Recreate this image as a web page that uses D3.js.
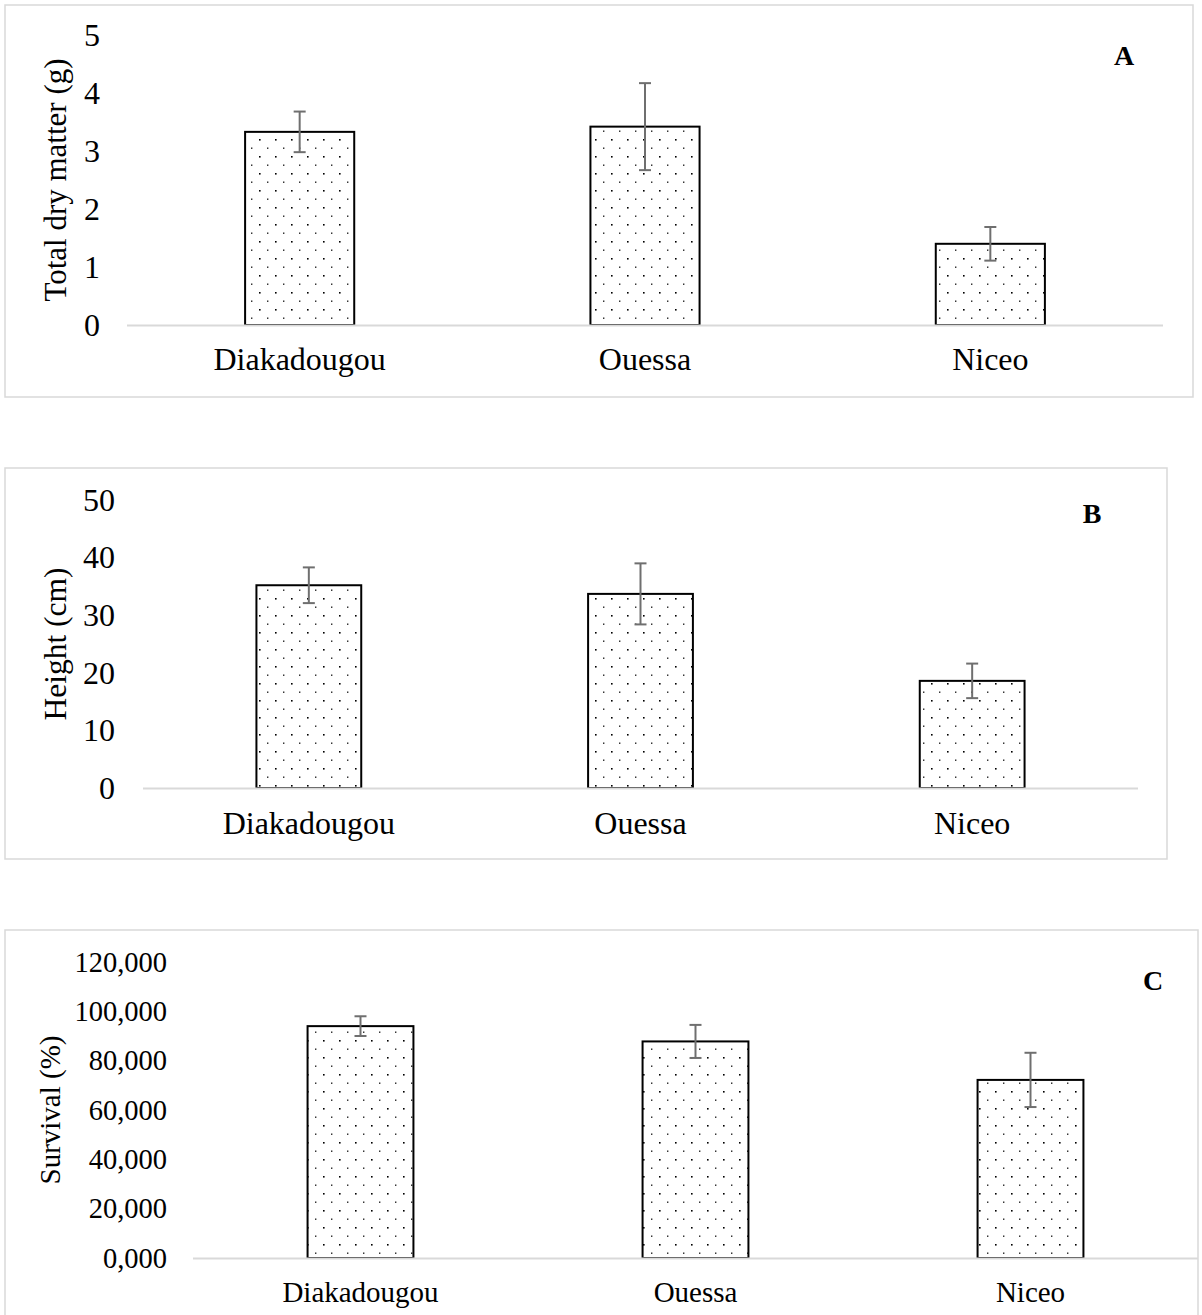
<!DOCTYPE html>
<html>
<head>
<meta charset="utf-8">
<script src="https://cdn.jsdelivr.net/npm/d3@7"></script>
<style>
  html, body { margin: 0; padding: 0; background: #fff; }
  svg { display: block; font-family: "Liberation Serif", "Times New Roman", serif; }
</style>
</head>
<body>
<div id="chart"></div>
<script>
// data
const sites = ["Diakadougou", "Ouessa", "Niceo"];

const dryMatter = [3.33, 3.42, 1.40];
const dryMatterErr = [0.35, 0.75, 0.29];
const dryMatterTicks = [0, 1, 2, 3, 4, 5];

const heightCm = [35.2, 33.7, 18.6];
const heightErr = [3.1, 5.3, 3.0];
const heightTicks = [0, 10, 20, 30, 40, 50];

const survival = [94.0, 87.8, 72.2];
const survivalErr = [4.0, 6.7, 11.0];
const survivalTicks = [0, 20, 40, 60, 80, 100, 120];

(function() {
  const W = 1202, H = 1315;
  const svg = d3.select("#chart").append("svg")
    .attr("width", W)
    .attr("height", H);

  const defs = svg.append("defs");
  const pat = defs.append("pattern")
    .attr("id", "dots")
    .attr("patternUnits", "userSpaceOnUse")
    .attr("width", 16)
    .attr("height", 17);
  pat.append("rect").attr("width", 16).attr("height", 17).attr("fill", "#fff");
  pat.append("rect").attr("x", 3).attr("y", 3).attr("width", 1.6).attr("height", 1.6).attr("fill", "#000");
  pat.append("rect").attr("x", 11).attr("y", 11.5).attr("width", 1.4).attr("height", 1.4).attr("fill", "#222");

  const commaFmt = d3.formatLocale({ decimal: ",", thousands: ".", grouping: [3], currency: ["", ""] }).format(".3f");

  const panels = [
    {
      values: dryMatter, errors: dryMatterErr, ticks: dryMatterTicks, fmt: d3.format("d"),
      title: "Total dry matter (g)", letter: "A",
      box: [5, 5, 1193, 397], x0: 127, x1: 1163, yBase: 325, yTop: 35,
      tickFont: 32, catFont: 32, titleFont: 31, tickGap: 27, titleX: 66, catDy: 45,
      letterX: 1124, letterY: 65
    },
    {
      values: heightCm, errors: heightErr, ticks: heightTicks, fmt: d3.format("d"),
      title: "Height (cm)", letter: "B",
      box: [5, 468, 1167, 859], x0: 143, x1: 1138, yBase: 788, yTop: 500,
      tickFont: 32, catFont: 32, titleFont: 31.5, tickGap: 28, titleX: 66, catDy: 46,
      letterX: 1092, letterY: 523
    },
    {
      values: survival, errors: survivalErr, ticks: survivalTicks, fmt: commaFmt,
      title: "Survival (%)", letter: "C",
      box: [5, 930, 1198, 1330], x0: 193, x1: 1198, yBase: 1258, yTop: 962,
      tickFont: 28.5, catFont: 29, titleFont: 29, tickGap: 26, titleX: 60, catDy: 44,
      letterX: 1153, letterY: 990
    }
  ];

  panels.forEach(p => {
    const g = svg.append("g");

    g.append("rect")
      .attr("x", p.box[0])
      .attr("y", p.box[1])
      .attr("width", p.box[2] - p.box[0])
      .attr("height", p.box[3] - p.box[1])
      .attr("fill", "none")
      .attr("stroke", "#d9d9d9")
      .attr("stroke-width", 1.5);

    const x = d3.scaleBand()
      .domain(sites)
      .range([p.x0, p.x1])
      .paddingInner(0.684)
      .paddingOuter(0.342);

    const y = d3.scaleLinear()
      .domain([0, d3.max(p.ticks)])
      .range([p.yBase, p.yTop]);

    const rows = sites.map((s, i) => ({ site: s, v: p.values[i], e: p.errors[i] }));

    // y axis labels only
    g.append("g")
      .attr("transform", `translate(${p.x0 - p.tickGap}, 0)`)
      .call(d3.axisLeft(y).tickValues(p.ticks).tickFormat(p.fmt).tickSize(0).tickPadding(0))
      .call(a => a.select(".domain").remove())
      .selectAll("text")
      .attr("fill", "#000")
      .style("font-family", "Liberation Serif, serif")
      .style("font-size", p.tickFont + "px");

    // bars
    g.selectAll(".bar")
      .data(rows)
      .enter()
      .append("rect")
      .attr("class", "bar")
      .attr("x", d => x(d.site))
      .attr("y", d => y(d.v))
      .attr("width", x.bandwidth())
      .attr("height", d => y(0) - y(d.v))
      .attr("fill", "url(#dots)")
      .attr("stroke", "#000")
      .attr("stroke-width", 2);

    // baseline
    g.append("line")
      .attr("x1", p.x0)
      .attr("x2", p.x1)
      .attr("y1", y(0) + 0.5)
      .attr("y2", y(0) + 0.5)
      .attr("stroke", "#d9d9d9")
      .attr("stroke-width", 2);

    // error bars
    const eb = g.selectAll(".err")
      .data(rows)
      .enter()
      .append("g")
      .attr("class", "err")
      .attr("stroke", "#6f6f6f")
      .attr("stroke-width", 2);

    const cx = d => x(d.site) + x.bandwidth() / 2;
    eb.append("line")
      .attr("x1", cx).attr("x2", cx)
      .attr("y1", d => y(d.v + d.e))
      .attr("y2", d => y(d.v - d.e));
    eb.append("line")
      .attr("x1", d => cx(d) - 6).attr("x2", d => cx(d) + 6)
      .attr("y1", d => y(d.v + d.e)).attr("y2", d => y(d.v + d.e));
    eb.append("line")
      .attr("x1", d => cx(d) - 6).attr("x2", d => cx(d) + 6)
      .attr("y1", d => y(d.v - d.e)).attr("y2", d => y(d.v - d.e));

    // category labels
    g.append("g")
      .attr("transform", `translate(0, ${p.yBase + p.catDy})`)
      .call(d3.axisBottom(x).tickSize(0).tickPadding(0))
      .call(a => a.select(".domain").remove())
      .selectAll("text")
      .attr("dy", 0)
      .attr("fill", "#000")
      .style("font-family", "Liberation Serif, serif")
      .style("font-size", p.catFont + "px");

    // axis title
    g.append("text")
      .attr("transform", `translate(${p.titleX}, ${(p.yBase + p.yTop) / 2}) rotate(-90)`)
      .attr("text-anchor", "middle")
      .style("font-size", p.titleFont + "px")
      .text(p.title);

    // panel letter
    g.append("text")
      .attr("x", p.letterX)
      .attr("y", p.letterY)
      .attr("text-anchor", "middle")
      .style("font-size", "28px")
      .style("font-weight", "bold")
      .text(p.letter);
  });
})();
</script>
</body>
</html>
